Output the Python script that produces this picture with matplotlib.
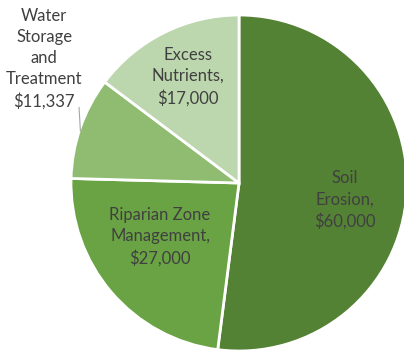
import matplotlib
matplotlib.use("Agg")
import matplotlib.pyplot as plt
import numpy as np

categories = ["Soil\nErosion,", "Riparian Zone\nManagement,", "Water\nStorage\nand\nTreatment", "Excess\nNutrients,"]
values = [60000, 27000, 11337, 17000]
colors = ["#548235", "#6aa343", "#8fbc71", "#bcd7ad"]
label_pos = [(0.63, -0.10), (-0.47, -0.32), (-1.16, 0.74), (-0.305, 0.635)]

plt.rcParams['font.family'] = ['Lato', 'DejaVu Sans']
fig = plt.figure(figsize=(4.04, 3.54), dpi=100)
cx, cy, r = 239, 183, 168
W, H = 404, 354
ax = fig.add_axes([(cx - r) / W, (H - cy - r) / H, 2 * r / W, 2 * r / H])
wedges, _ = ax.pie(values, colors=colors, startangle=90, counterclock=False,
                   radius=1.0, wedgeprops=dict(edgecolor="white", linewidth=2.0))
ax.set_xlim(-1, 1)
ax.set_ylim(-1, 1)
ax.set_aspect("equal")
ax.axis("off")

for cat, v, (x, y) in zip(categories, values, label_pos):
    ax.text(x, y, f"{cat}\n${v:,}", ha="center", va="center", fontsize=12,
            color="#404040", linespacing=1.4, clip_on=False)

# leader line for the outside label
w = wedges[2]
mid = np.deg2rad((w.theta1 + w.theta2) / 2)
x0, y0 = np.cos(mid), np.sin(mid)
ax.plot([x0, x0 - 0.008], [y0 - 0.02, y0 + 0.12], color="#a6a6a6", lw=0.8, clip_on=False)

fig.savefig("out.png", dpi=100)
